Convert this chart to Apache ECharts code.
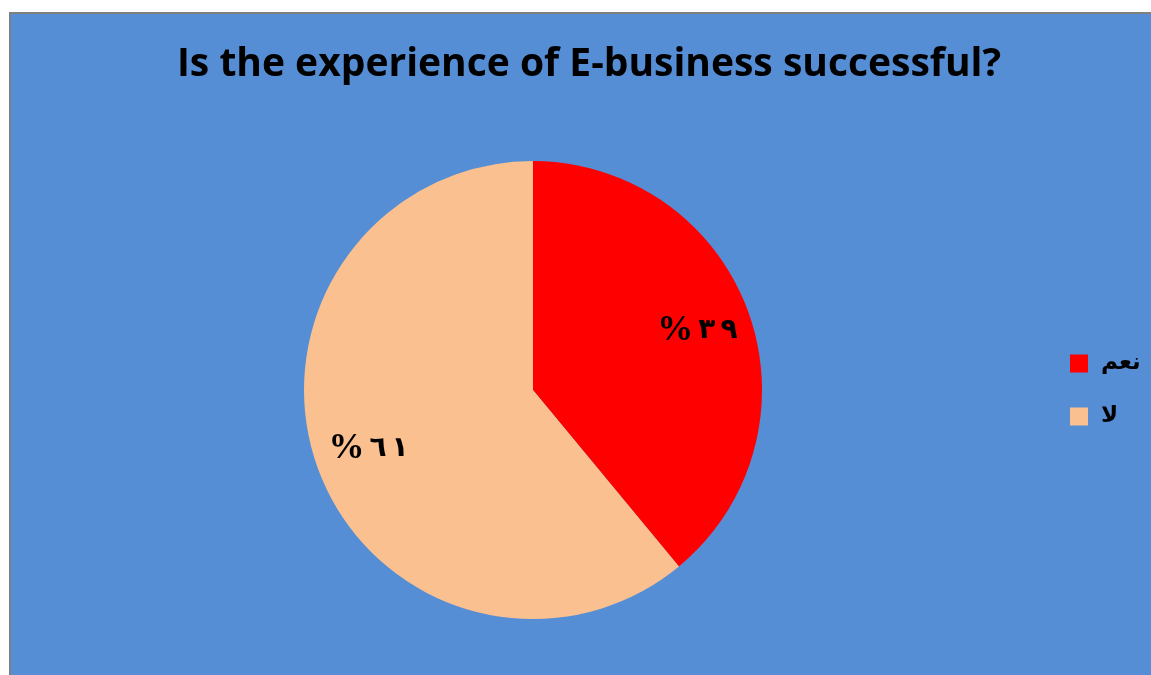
<!DOCTYPE html>
<html>
<head>
<meta charset="utf-8">
<script src="https://cdn.jsdelivr.net/npm/echarts@6/dist/echarts.min.js"></script>
<style>
html,body{margin:0;padding:0;background:#fff;}
#chart{width:1151px;height:675px;}
</style>
</head>
<body>
<div id="chart"></div>
<script>
// Data
const titleText = 'Is the experience of E-business successful?';
const categories = ['نعم', 'لا'];
const values = [39, 61];
const colors = ['#FF0000', '#FAC090'];

function arabicDigitsRich(n) {
  return String(n).split('').map(d => '{d|' + '٠١٢٣٤٥٦٧٨٩'[+d] + '}').join('');
}

const pieData = categories.map((c, i) => ({ name: c, value: values[i], itemStyle: { color: colors[i] } }));

const chart = echarts.init(document.getElementById('chart'), null, { renderer: 'canvas' });
const cx = 533, cy = 390, R = 229;

chart.setOption({
  backgroundColor: '#ffffff',
  animation: false,
  graphic: [{
    type: 'rect',
    z: -10,
    shape: { x: 10, y: 13, width: 1160, height: 700 },
    style: { fill: '#558ED5', stroke: '#808080', lineWidth: 2 }
  }],
  title: {
    text: titleText,
    left: 584,
    textAlign: 'center',
    top: 40,
    textStyle: { fontFamily: 'Open Sans', fontWeight: 'bold', fontSize: 39, color: '#000' }
  },
  legend: {
    orient: 'vertical',
    left: 1065,
    top: 347,
    itemWidth: 18,
    itemHeight: 18,
    itemGap: 30,
    icon: 'rect',
    data: categories,
    textStyle: { fontFamily: 'DejaVu Sans', fontWeight: 'bold', fontSize: 23, color: '#000', padding: [0, 0, 0, 8] }
  },
  series: [{
    type: 'pie',
    center: [cx, cy],
    radius: [0, R],
    startAngle: 90,
    clockwise: true,
    label: { show: false },
    labelLine: { show: false },
    data: pieData
  }, {
    type: 'pie',
    center: [cx, cy],
    radius: [R * 0.5, R],
    startAngle: 90,
    clockwise: true,
    silent: true,
    itemStyle: { color: 'rgba(0,0,0,0)' },
    label: {
      show: true,
      position: 'inside',
      formatter: p => '{p|%}' + arabicDigitsRich(p.value),
      rich: {
        p: { fontFamily: 'Liberation Serif', fontWeight: 'bold', fontSize: 36, color: '#000' },
        d: { fontFamily: 'DejaVu Sans', fontWeight: 'bold', fontSize: 28, color: '#000', padding: [0, 0, 0, 5] }
      }
    },
    labelLine: { show: false },
    data: categories.map((c, i) => ({ name: c, value: values[i], itemStyle: { color: 'rgba(0,0,0,0)' } }))
  }]
});
</script>
</body>
</html>
